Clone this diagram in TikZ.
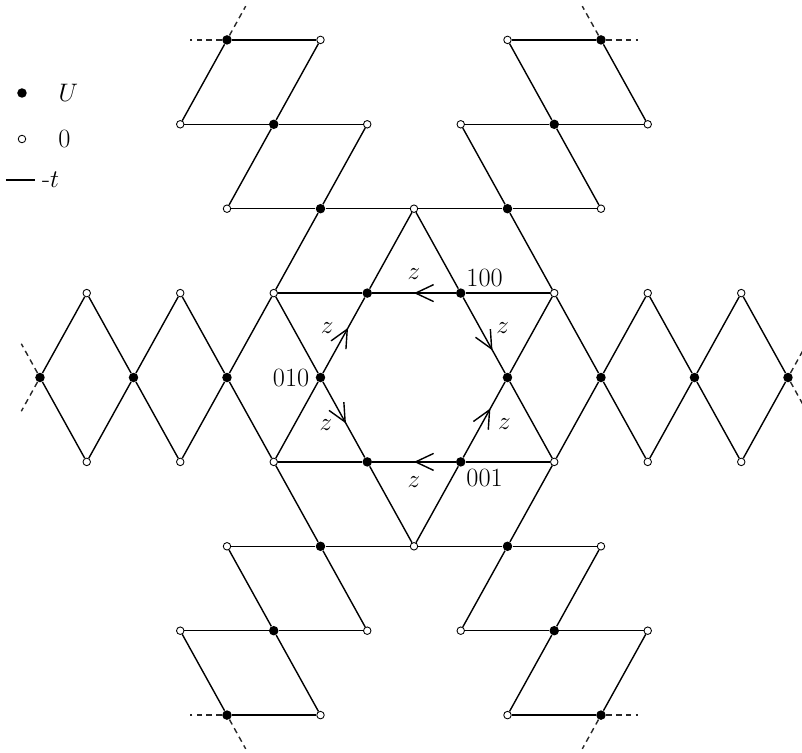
\documentclass[tikz,border=0pt]{standalone}
\usetikzlibrary{arrows.meta,decorations.markings,positioning}
\begin{document}
\begin{tikzpicture}[x=0.935cm,y=1.688cm,>={Straight Barb[length=3.6mm,width=3.4mm]},
  hop/.style={line width=0.8pt},
  tail/.style={line width=0.8pt,dash pattern=on 3.2pt off 2.4pt,black!85},
  udot/.style={circle,fill=black,inner sep=0pt,minimum size=1.9mm},
  zdot/.style={circle,draw=black,fill=white,line width=0.5pt,inner sep=0pt,minimum size=1.5mm},
  lbl/.style={inner sep=1pt,font=\fontsize{15}{18}\selectfont},
  flow/.style={postaction={decorate},decoration={markings,mark=at position #1 with {\arrow{>}}}}]
  \useasboundingbox (-8.28cm,-7.51cm) rectangle (7.76cm,7.55cm);
  % sites with U (filled) and with 0 (open)
  \foreach \i/\j in {-1/1,1/1,2/0,-2/0,1/-1,-1/-1,-2/2,2/2,-2/-2,2/-2,-3/3,-4/4,3/3,4/4,
                     -3/-3,-4/-4,3/-3,4/-4,-4/0,-6/0,-8/0,4/0,6/0,8/0}
    \node[udot] (s\i_\j) at (\i,\j) {};
  \foreach \i/\j in {-3/1,3/1,0/2,0/-2,-3/-1,3/-1,-4/2,4/2,-4/-2,4/-2,-5/3,-1/3,-2/4,1/3,5/3,2/4,
                     -5/-3,-1/-3,-2/-4,1/-3,5/-3,2/-4,-5/1,-7/1,-5/-1,-7/-1,5/1,7/1,5/-1,7/-1}
    \node[zdot] (s\i_\j) at (\i,\j) {};
  % horizontal bonds
  \foreach \a/\b in {-4_4/-2_4,2_4/4_4,-5_3/-3_3,-3_3/-1_3,1_3/3_3,3_3/5_3,
                     -4_2/-2_2,-2_2/0_2,0_2/2_2,2_2/4_2,-3_1/-1_1,1_1/3_1,
                     -3_-1/-1_-1,1_-1/3_-1,-4_-2/-2_-2,-2_-2/0_-2,0_-2/2_-2,2_-2/4_-2,
                     -5_-3/-3_-3,-3_-3/-1_-3,1_-3/3_-3,3_-3/5_-3,-4_-4/-2_-4,2_-4/4_-4}
    \draw[hop] (s\a) -- (s\b);
  % bonds going up to the right
  \foreach \a/\b in {-5_3/-4_4,-8_0/-7_1,-4_2/-3_3,-3_3/-2_4,-7_-1/-6_0,-6_0/-5_1,
                     -5_-1/-4_0,-4_0/-3_1,-3_1/-2_2,-2_2/-1_3,-3_-1/-2_0,-1_1/0_2,
                     0_-2/1_-1,2_0/3_1,1_-3/2_-2,2_-2/3_-1,3_-1/4_0,4_0/5_1,
                     2_-4/3_-3,3_-3/4_-2,5_-1/6_0,6_0/7_1,4_-4/5_-3,7_-1/8_0}
    \draw[hop] (s\a) -- (s\b);
  % bonds going down to the right
  \foreach \a/\b in {4_4/5_3,7_1/8_0,2_4/3_3,3_3/4_2,5_1/6_0,6_0/7_-1,
                     1_3/2_2,2_2/3_1,3_1/4_0,4_0/5_-1,0_2/1_1,2_0/3_-1,
                     -3_1/-2_0,-1_-1/0_-2,-5_1/-4_0,-4_0/-3_-1,-3_-1/-2_-2,-2_-2/-1_-3,
                     -4_-2/-3_-3,-3_-3/-2_-4,-7_1/-6_0,-6_0/-5_-1,-5_-3/-4_-4,-8_0/-7_-1}
    \draw[hop] (s\a) -- (s\b);
  % the lattice goes on
  \foreach \s/\x/\y [count=\n] in {-4_4/-4.8/4,-4_4/-3.6/4.4,4_4/4.8/4,4_4/3.6/4.4,
                                   -4_-4/-4.8/-4,-4_-4/-3.6/-4.4,4_-4/4.8/-4,4_-4/3.6/-4.4,
                                   -8_0/-8.4/0.4,-8_0/-8.4/-0.4,8_0/8.4/0.4,8_0/8.4/-0.4}
  {
    \coordinate (end\n) at (\x,\y);
    \draw[tail] (s\s) -- (end\n);
  }
  % hexagon of U sites, z bonds
  \draw[hop,flow=0.5] (s1_1) -- node[lbl,above=0.22cm] (zt) {$z$} (s-1_1);
  \draw[hop,flow=0.6] (s-2_0) -- node[lbl,pos=0.6,left=0.24cm] (zul) {$z$} (s-1_1);
  \draw[hop,flow=0.7] (s1_1) -- node[lbl,pos=0.4,right=0.28cm] (zur) {$z$} (s2_0);
  \draw[hop,flow=0.55] (s-2_0) -- node[lbl,pos=0.57,left=0.24cm] (zll) {$z$} (s-1_-1);
  \draw[hop,flow=0.65] (s1_-1) -- node[lbl,pos=0.44,right=0.28cm] (zlr) {$z$} (s2_0);
  \draw[hop,flow=0.5] (s1_-1) -- node[lbl,below=0.24cm] (zb) {$z$} (s-1_-1);
  \node[lbl,above right=0cm and 0cm of s1_1] (l100) {100};
  \node[lbl,left=0.08cm of s-2_0] (l010) {010};
  \node[lbl,below right=0.02cm and 0cm of s1_-1] (l001) {001};
  % key
  \node[udot] (keyu) at (-7.84cm,5.69cm) {};
  \node[lbl,right=0.59cm of keyu] (keyutxt) {$U$};
  \node[zdot] (keyz) at (-7.84cm,4.77cm) {};
  \node[lbl,right=0.6cm of keyz] (keyztxt) {0};
  \coordinate (keya) at (-8.16cm,3.95cm);
  \coordinate (keyb) at (-7.58cm,3.95cm);
  \draw[hop] (keya) -- (keyb);
  \node[lbl,right=0.1cm of keyb] (keyttxt) {-$t$};
\end{tikzpicture}
\end{document}
